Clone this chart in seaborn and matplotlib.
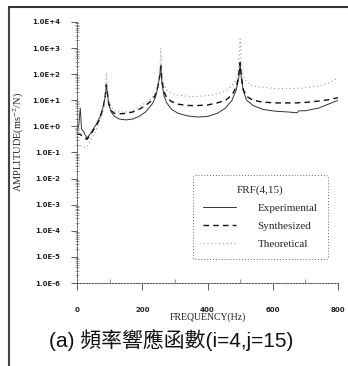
import numpy as np
import pandas as pd
import matplotlib
matplotlib.use("Agg")
import matplotlib.pyplot as plt
import seaborn as sns
from matplotlib.lines import Line2D
from matplotlib.ticker import FixedLocator, LogLocator, NullFormatter, MultipleLocator

sns.set_theme(style="white")
plt.rcParams['font.family'] = ['DejaVu Sans']
plt.rcParams['mathtext.fontset'] = 'stix'

# ---- data (frequency in Hz, amplitude as log10 values) ----
freq = [0, 5, 10, 14, 20, 30, 40, 50, 60, 70, 80, 86, 90, 93, 97, 105, 115, 130,
        150, 170, 190, 210, 230, 240, 248, 253, 257, 260, 266, 275, 290, 310, 340,
        370, 400, 430, 455, 475, 488, 495, 500, 504, 510, 520, 540, 570, 610, 650,
        675, 680, 700, 740, 770, 800]

experimental_log10 = [-0.1, 0.0, 0.7, -0.1, -0.2, -0.45, -0.3, -0.1, 0.1, 0.35, 0.75,
                      1.1, 1.6, 1.3, 0.85, 0.55, 0.38, 0.28, 0.25, 0.28, 0.38, 0.55,
                      0.85, 1.1, 1.5, 1.9, 2.35, 1.7, 1.2, 0.9, 0.65, 0.5, 0.4, 0.36,
                      0.38, 0.5, 0.7, 1.0, 1.4, 1.8, 2.4, 1.8, 1.35, 1.0, 0.8, 0.65,
                      0.58, 0.55, 0.52, 0.6, 0.6, 0.7, 0.85, 1.0]

synthesized_log10 = [-0.3, -0.3, -0.3, -0.35, -0.4, -0.5, -0.35, -0.15, 0.05, 0.3, 0.7,
                     1.1, 1.6, 1.3, 0.9, 0.6, 0.5, 0.48, 0.5, 0.55, 0.65, 0.8, 1.0,
                     1.2, 1.55, 1.9, 2.3, 1.8, 1.35, 1.1, 0.95, 0.85, 0.8, 0.8, 0.82,
                     0.9, 1.0, 1.2, 1.5, 1.9, 2.45, 1.9, 1.4, 1.15, 1.0, 0.93, 0.9,
                     0.9, 0.9, 0.91, 0.92, 0.97, 1.02, 1.1]

theoretical_log10 = [-0.7, -0.7, -0.7, -0.75, -0.8, -0.8, -0.6, -0.35, -0.1, 0.2, 0.6,
                     1.0, 2.05, 1.5, 1.0, 0.75, 0.6, 0.55, 0.55, 0.6, 0.75, 0.9, 1.1,
                     1.3, 1.6, 2.0, 3.0, 2.0, 1.6, 1.4, 1.25, 1.2, 1.15, 1.15, 1.18,
                     1.25, 1.35, 1.55, 1.8, 2.2, 3.35, 2.3, 1.9, 1.7, 1.55, 1.5, 1.45,
                     1.45, 1.46, 1.46, 1.48, 1.55, 1.65, 1.85]

series_names = ["Experimental", "Synthesized", "Theoretical"]
legend_title = "FRF(4,15)"
x_ticks = [0, 200, 400, 600, 800]
y_exponents = [-6, -5, -4, -3, -2, -1, 0, 1, 2, 3, 4]
y_tick_labels = ["1.0E-6", "1.0E-5", "1.0E-4", "1.0E-3", "1.0E-2", "1.0E-1",
                 "1.0E+0", "1.0E+1", "1.0E+2", "1.0E+3", "1.0E+4"]
caption = "(a) 頻率響應函數(i=4,j=15)"

df = pd.DataFrame({
    "freq": freq * 3,
    "amp": list(10 ** np.array(experimental_log10)) + list(10 ** np.array(synthesized_log10))
           + list(10 ** np.array(theoretical_log10)),
    "series": [series_names[0]] * len(freq) + [series_names[1]] * len(freq)
              + [series_names[2]] * len(freq),
})

fig = plt.figure(figsize=(3.48, 3.66), dpi=100)
ax = fig.add_axes([77 / 348, 1 - 283 / 366, (338 - 77) / 348, (283 - 22) / 366])

styles = {
    "Experimental": dict(color="#333333", lw=0.7, ls="-"),
    "Synthesized": dict(color="#111111", lw=1.0, ls=(0, (4, 3))),
    "Theoretical": dict(color="#9a9a9a", lw=0.8, ls=(0, (1, 2.5))),
}
handles = []
for name in series_names:
    sub = df[df["series"] == name]
    st = styles[name]
    sns.lineplot(data=sub, x="freq", y="amp", ax=ax, color=st["color"],
                 linewidth=st["lw"], linestyle=st["ls"], legend=False)
    handles.append(Line2D([], [], color=st["color"], lw=st["lw"], ls=st["ls"]))

ax.set_yscale("log")
ax.set_ylim(1e-6, 1e4)
ax.set_xlim(0, 800)
ax.yaxis.set_major_locator(FixedLocator([10.0 ** e for e in y_exponents]))
ax.set_yticklabels(y_tick_labels)
ax.yaxis.set_minor_locator(LogLocator(base=10, subs=np.arange(2, 10), numticks=30))
ax.yaxis.set_minor_formatter(NullFormatter())
ax.set_xticks(x_ticks)
ax.set_xticklabels([str(t) for t in x_ticks])
ax.xaxis.set_minor_locator(MultipleLocator(100))

ax.tick_params(axis="y", which="major", direction="out", length=4, width=0.6,
               color="#444444", labelsize=5, pad=8, left=True)
ax.tick_params(axis="y", which="minor", direction="inout", length=3, width=0.4,
               color="#666666", left=True)
ax.tick_params(axis="x", which="major", direction="out", length=5, width=0.6,
               color="#444444", labelsize=5, pad=12, bottom=True)
ax.tick_params(axis="x", which="minor", direction="in", length=3, width=0.5,
               color="#666666", bottom=True)
for lab in ax.get_xticklabels() + ax.get_yticklabels():
    lab.set_fontweight("bold")
    lab.set_color("#222222")

for s in ["top", "right"]:
    ax.spines[s].set_visible(False)
for s in ["left", "bottom"]:
    ax.spines[s].set_linestyle((0, (1.5, 1.5)))
    ax.spines[s].set_linewidth(0.7)
    ax.spines[s].set_color("#555555")
ax.set_facecolor("white")
ax.grid(False)

ax.set_xlabel("FREQUENCY(Hz)", family="Liberation Serif", fontsize=7, labelpad=0,
              color="#222222")
ax.set_ylabel(r"AMPLITUDE(ms$^{-2}$/N)", family="Liberation Serif", fontsize=7.5,
              color="#222222")
ax.yaxis.set_label_coords(-0.195, 0.54)

leg = ax.legend(handles, series_names, title=legend_title, loc="upper left",
                bbox_to_anchor=(0.445, 0.414), frameon=True, fancybox=True,
                prop={"family": "Liberation Serif", "size": 8},
                title_fontproperties={"family": "Liberation Serif", "size": 8},
                handlelength=3.0, handletextpad=1.9, labelspacing=0.75,
                borderpad=0.9, borderaxespad=0)
frame = leg.get_frame()
frame.set_linestyle((0, (1, 2)))
frame.set_edgecolor("#666666")
frame.set_linewidth(0.7)
frame.set_facecolor("white")
frame.set_alpha(1)

fig.text(0.491, 1 - 340 / 366, caption, ha="center", va="center", fontsize=15,
         family=["Liberation Sans", "Noto Sans CJK TC"], color="#111111")

fig.add_artist(Line2D([9 / 348, 9 / 348], [0, 1 - 7 / 366], transform=fig.transFigure,
                      color="#444444", lw=1.5))
fig.add_artist(Line2D([9 / 348, 1], [1 - 7 / 366, 1 - 7 / 366], transform=fig.transFigure,
                      color="#333333", lw=1.5))

fig.savefig("out.png", dpi=100, facecolor="white")
